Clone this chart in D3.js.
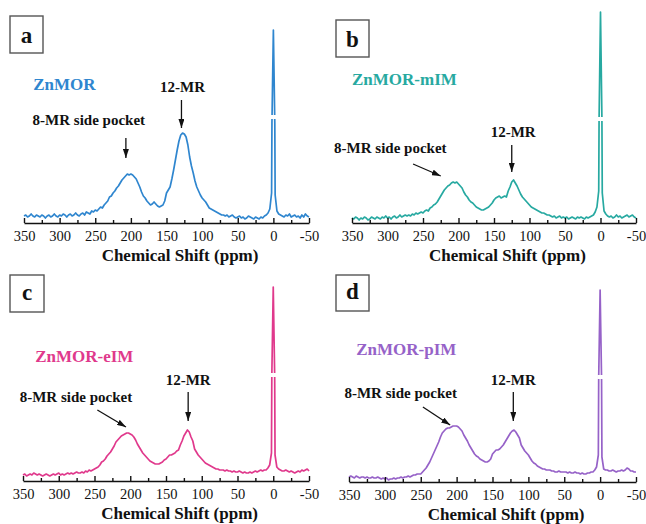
<!DOCTYPE html>
<html><head><meta charset="utf-8">
<script src="https://cdn.jsdelivr.net/npm/d3@7"></script>
<style>body{margin:0;background:#fff}svg{display:block}</style>
</head><body><svg id="chart" width="646" height="524"></svg>
<script>
// Chemical shift grid (ppm)
const shift = [
350,347.5,345,342.5,340,337.5,335,332.5,
330,327.5,325,322.5,320,317.5,315,312.5,
310,307.5,305,302.5,300,297.5,295,292.5,
290,287.5,285,282.5,280,277.5,275,272.5,
270,267.5,265,262.5,260,257.5,255,252.5,
250,247.5,245,242.5,240,237.5,235,232.5,
230,227.5,225,222.5,220,217.5,215,212.5,
210,207.5,205,202.5,200,197.5,195,192.5,
190,187.5,185,182.5,180,177.5,175,172.5,
170,167.5,165,162.5,160,157.5,155,152.5,
150,147.5,145,142.5,140,137.5,135,132.5,
130,127.5,125,122.5,120,117.5,115,112.5,
110,107.5,105,102.5,100,97.5,95,92.5,
90,87.5,85,82.5,80,77.5,75,72.5,
70,67.5,65,62.5,60,57.5,55,52.5,
50,47.5,45,42.5,40,37.5,35,32.5,
30,27.5,25,22.5,20,17.5,15,12.5,
10,7.5,5,2.5,2,0,-2,-2.5,
-5,-7.5,-10,-12.5,
-15,-17.5,-20,-22.5,-25,-27.5,-30,-32.5,
-35,-37.5,-40,-42.5,-45,-47.5,-50];

// Intensities (arbitrary units)
const znmor = [
7,8,6,7,9,7,6,8,
7,6,8,7,5,7,8,6,
7,9,7,6,8,7,9,8,
6,8,9,7,8,10,8,7,
9,10,8,11,10,9,12,11,
13,12,14,16,15,18,20,22,
26,27,30,32,35,37,40,43,
45,47,49,48,49,48,46,44,
40,36,31,27,25,22,20,18,
19,21,19,17,16,17,18,22,
30,33,36,44,53,63,73,82,
88,90,89,86,78,66,57,50,
42,36,32,28,25,23,21,18,
15,14,13,12,11,10,9,8,
8,7,8,6,7,8,6,5,
6,7,5,6,4,5,7,6,
5,4,6,5,4,6,5,7,
8,10,14,30,100,193,100,28,
12,9,8,7,
6,8,7,9,6,7,8,6,
7,5,8,6,9,7,6];

const znmorMIM = [
5,4,6,5,3,5,4,6,
5,3,4,6,5,4,6,5,
4,6,5,7,5,6,4,6,
7,5,6,8,6,7,8,7,
8,7,9,8,10,9,10,11,
10,12,13,12,15,16,18,19,
21,24,27,30,33,35,37,38,
40,41,40,41,39,37,35,31,
28,26,23,21,20,18,16,15,
14,13,13,14,15,16,18,20,
23,25,26,27,25,26,27,26,
32,36,41,43,40,37,33,29,
26,24,22,20,18,16,15,14,
13,12,11,10,10,9,8,8,
7,6,7,5,6,7,5,6,
5,6,4,5,6,5,4,6,
5,6,5,4,6,5,6,7,
8,11,16,32,104,211,104,30,
12,9,7,6,
7,5,6,8,6,7,5,6,
7,8,6,7,8,6,5];

const znmorEIM = [
6,7,5,6,7,6,8,7,
6,7,6,5,6,7,6,5,
6,7,6,7,8,6,7,6,
7,8,7,8,7,8,9,8,
8,9,8,10,9,11,10,11,
12,13,14,16,19,20,22,25,
27,29,32,35,39,41,43,45,
46,47,48,48,47,46,44,41,
37,34,31,28,26,24,22,20,
19,18,17,17,17,18,19,21,
22,24,26,26,27,28,30,31,
36,40,45,48,51,49,44,40,
32,29,26,24,22,20,18,17,
16,15,14,13,12,12,11,11,
11,10,11,10,10,9,10,9,
9,10,9,8,9,8,8,9,
8,9,10,9,10,11,10,11,
11,13,16,28,105,194,105,26,
14,12,11,10,
10,11,10,9,10,9,8,9,
10,9,11,10,11,12,10];

const znmorPIM = [
5,6,5,4,6,5,4,5,
5,4,5,4,4,5,4,4,
5,4,3,4,3,4,2,3,
3,4,3,4,4,5,4,5,
5,6,5,6,7,7,8,8,
8,10,12,14,17,20,24,28,
32,36,40,45,49,51,53,54,
54,55,56,56,56,55,53,51,
47,44,41,37,34,31,28,26,
25,23,22,21,20,20,21,23,
28,30,32,32,33,35,37,40,
43,46,49,51,52,50,47,44,
37,34,31,29,27,24,21,19,
18,16,15,14,13,13,12,12,
12,11,11,10,10,11,10,10,
10,10,9,10,9,9,10,9,
9,8,9,8,8,9,9,10,
10,12,15,27,104,192,104,25,
13,12,12,11,
11,12,11,10,11,11,12,11,
12,14,13,11,11,10,10];

const sampleNames = ["ZnMOR", "ZnMOR-mIM", "ZnMOR-eIM", "ZnMOR-pIM"];
const panelLetters = ["a", "b", "c", "d"];
const majorTicks = [350, 300, 250, 200, 150, 100, 50, 0, -50];
const minorTicks = [325, 275, 225, 175, 125, 75, 25, -25];
const xTitle = "Chemical Shift (ppm)";
const peakLabels = ["8-MR side pocket", "12-MR"];
const breakLevel = [104, 102, 104, 103];
const seriesList = [znmor, znmorMIM, znmorEIM, znmorPIM];

// layout / style (positions in data coords where applicable)
const panels = [
  {x0:24, x1:309, axisY:223, color:"#2f86cf", box:[10,16,33,37], letterBase:43,
   name:[337,133], mr12:[127.5,131], a12:[129,123,129,95], mr8:[259,98], a8:[207,85,207,65]},
  {x0:352, x1:636, axisY:223, color:"#27a9a1", box:[336,20,33,37], letterBase:47,
   name:[350,138], mr12:[123,86], a12:[125,78,125,51], mr8:[296,70], a8:[264,59,225,47]},
  {x0:23, x1:309, axisY:481, color:"#e0398c", box:[10,275,34,37], letterBase:300,
   name:[333,119], mr12:[119,96], a12:[119,89,119,60], mr8:[276,79], a8:[246,71,206,54]},
  {x0:349, x1:636, axisY:482, color:"#9662c8", box:[336,275,33,36], letterBase:299,
   name:[340,127], mr12:[121,97], a12:[121,90,121,61], mr8:[278,84], a8:[247,75,209,57]}
];

const svg = d3.select("#chart");
svg.append("rect").attr("width",646).attr("height",524).attr("fill","#fff");
const FONT = "'Liberation Serif','Times New Roman',serif";

svg.append("defs").append("marker")
  .attr("id","ah").attr("markerUnits","userSpaceOnUse")
  .attr("markerWidth",9).attr("markerHeight",6)
  .attr("refX",9).attr("refY",3).attr("orient","auto")
  .append("path").attr("d","M0,0 L9,3 L0,6 Z").attr("fill","#111");

panels.forEach((p, i) => {
  const data = shift.map((s, k) => ({s, v: seriesList[i][k]}));
  const x = d3.scaleLinear().domain([350, -50]).range([p.x0, p.x1]);
  const y = d3.scaleLinear().domain([0, 200]).range([p.axisY, p.axisY - 200]);
  const g = svg.append("g");

  // spectrum
  g.append("path").datum(data)
    .attr("d", d3.line().x(d => x(d.s)).y(d => y(d.v)))
    .attr("fill","none").attr("stroke", p.color)
    .attr("stroke-width",1.7).attr("stroke-linejoin","round");

  // break gap on the sharp peak
  g.append("rect")
    .attr("x", x(4)).attr("width", x(-4) - x(4))
    .attr("y", y(breakLevel[i] + 4)).attr("height", y(breakLevel[i]) - y(breakLevel[i] + 4))
    .attr("fill","#fff");

  // axes
  const major = d3.axisBottom(x).tickValues(majorTicks).tickSizeInner(-5).tickSizeOuter(0)
    .tickFormat(d => String(d));
  const minor = d3.axisBottom(x).tickValues(minorTicks).tickSizeInner(-3).tickSizeOuter(0)
    .tickFormat("");
  const ax = g.append("g").attr("transform", `translate(0,${p.axisY})`).call(major);
  const axm = g.append("g").attr("transform", `translate(0,${p.axisY})`).call(minor);
  axm.select(".domain").remove();
  [ax, axm].forEach(a => {
    a.selectAll("path,line").attr("stroke","#111").attr("stroke-width",1.4);
  });
  ax.selectAll("text").attr("y",18).attr("dy",0)
    .attr("font-family",FONT).attr("font-size","14.5px").attr("fill","#111");

  g.append("text").attr("x", x(131)).attr("y", p.axisY + 38)
    .attr("text-anchor","middle").attr("font-family",FONT).attr("font-weight","bold")
    .attr("font-size","17px").attr("fill","#111").text(xTitle);

  // panel letter box
  g.append("rect").attr("x",p.box[0]).attr("y",p.box[1]).attr("width",p.box[2]).attr("height",p.box[3])
    .attr("fill","none").attr("stroke","#555").attr("stroke-width",1.4);
  g.append("text").attr("x", p.box[0] + p.box[2]/2).attr("y", p.letterBase)
    .attr("text-anchor","middle").attr("font-family",FONT).attr("font-weight","bold")
    .attr("font-size","23px").attr("fill","#111").text(panelLetters[i]);

  // sample name
  g.append("text").attr("x", x(p.name[0])).attr("y", y(p.name[1]))
    .attr("font-family",FONT).attr("font-weight","bold").attr("font-size","17px")
    .attr("fill", p.color).text(sampleNames[i]);

  // annotations
  g.append("text").attr("x", x(p.mr8[0])).attr("y", y(p.mr8[1]))
    .attr("text-anchor","middle").attr("font-family",FONT).attr("font-weight","bold")
    .attr("font-size","15px").attr("fill","#111").text(peakLabels[0]);
  g.append("text").attr("x", x(p.mr12[0])).attr("y", y(p.mr12[1]))
    .attr("text-anchor","middle").attr("font-family",FONT).attr("font-weight","bold")
    .attr("font-size","15px").attr("fill","#111").text(peakLabels[1]);

  [p.a12, p.a8].forEach(a => {
    g.append("line").attr("x1", x(a[0])).attr("y1", y(a[1]))
      .attr("x2", x(a[2])).attr("y2", y(a[3]))
      .attr("stroke","#111").attr("stroke-width",1.3).attr("marker-end","url(#ah)");
  });
});
</script></body></html>
